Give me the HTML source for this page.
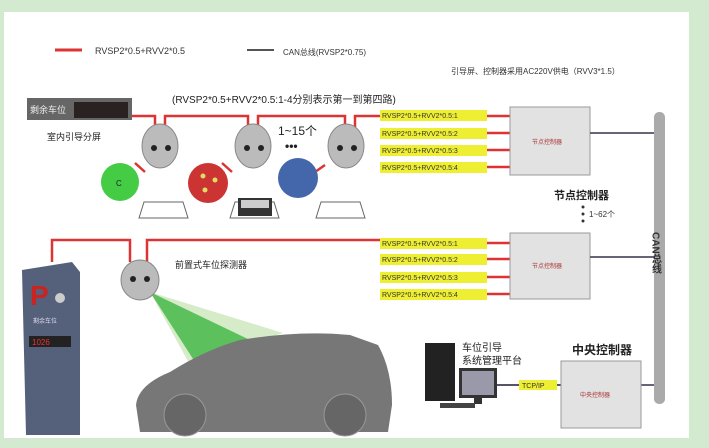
<!DOCTYPE html>
<html><head><meta charset="utf-8"><style>
body{margin:0;width:709px;height:448px;background:#d3ead0;overflow:hidden;font-family:"Liberation Sans","Noto Sans CJK SC",sans-serif}
svg{position:absolute;left:0;top:0}
</style></head><body>
<svg width="709" height="448" viewBox="0 0 709 448" font-family="Liberation Sans, Noto Sans CJK SC, sans-serif">
<rect x="4" y="12" width="685" height="426" fill="#fff"/>
<line x1="55" y1="50" x2="82" y2="50" stroke="#d33" stroke-width="3"/>
<text x="95" y="54" font-size="9" fill="#333">RVSP2*0.5+RVV2*0.5</text>
<line x1="247" y1="50" x2="274" y2="50" stroke="#555" stroke-width="2"/>
<text x="283" y="55" font-size="8" fill="#333">CAN总线(RVSP2*0.75)</text>
<text x="451" y="74" font-size="8" fill="#333">引导屏、控制器采用AC220V供电（RVV3*1.5）</text>
<text x="172" y="103" font-size="10" fill="#222">(RVSP2*0.5+RVV2*0.5:1-4分别表示第一到第四路)</text>
<rect x="27" y="98" width="105" height="22" fill="#666"/>
<rect x="74" y="102" width="54" height="16" fill="#2a2220"/>
<text x="30" y="113" font-size="9" fill="#eee">剩余车位</text>
<text x="47" y="140" font-size="9" fill="#222">室内引导分屏</text>
<g stroke="#d33" stroke-width="2.5" fill="none">
<path d="M132 116 H155 V128"/>
<path d="M165 128 V116 H248 V128"/>
<path d="M258 128 V116 H345 V128"/>
<path d="M355 128 V116 H382"/>
<path d="M487 116 H510 M487 133 H510 M487 150 H510 M487 167 H510"/>
<path d="M487 243 H510 M487 259 H510 M487 277 H510 M487 294 H510"/>
<path d="M52 262 V240 H130 V262"/>
<path d="M147 262 V240 H382"/>
<path d="M145 172 L135 163 M232 172 L222 163 M325 165 L315 172"/>
</g>
<g>
<ellipse cx="160" cy="146" rx="18" ry="22" fill="#bbb" stroke="#888"/><circle cx="154" cy="148" r="3" fill="#222"/><circle cx="168" cy="148" r="3" fill="#222"/>
<ellipse cx="253" cy="146" rx="18" ry="22" fill="#bbb" stroke="#888"/><circle cx="247" cy="148" r="3" fill="#222"/><circle cx="261" cy="148" r="3" fill="#222"/>
<ellipse cx="346" cy="146" rx="18" ry="22" fill="#bbb" stroke="#888"/><circle cx="340" cy="148" r="3" fill="#222"/><circle cx="354" cy="148" r="3" fill="#222"/>
</g>
<circle cx="120" cy="182" r="19" fill="#4c4"/><text x="116" y="186" font-size="8" fill="#222">C</text>
<circle cx="208" cy="183" r="20" fill="#c33"/><circle cx="203" cy="176" r="2.5" fill="#dd6"/><circle cx="215" cy="180" r="2.5" fill="#dd6"/><circle cx="205" cy="190" r="2.5" fill="#dd6"/>
<circle cx="298" cy="178" r="20" fill="#4466aa"/>
<text x="278" y="135" font-size="12" fill="#222">1~15个</text>
<text x="285" y="150" font-size="12" font-weight="bold" fill="#222">•••</text>
<g fill="none" stroke="#666" stroke-width="1">
<path d="M139 218 L144 202 H183 L188 218 Z"/><path d="M316 218 L321 202 H360 L365 218 Z"/><path d="M230 218 L235 202 H274 L279 218 Z"/>
</g>
<rect x="238" y="198" width="34" height="18" fill="#333"/><rect x="241" y="200" width="28" height="8" fill="#ccc"/>
<g font-size="7" fill="#333">
<rect x="380" y="110" width="107" height="11" fill="#ee3"/><text x="382" y="118">RVSP2*0.5+RVV2*0.5:1</text>
<rect x="380" y="128" width="107" height="11" fill="#ee3"/><text x="382" y="136">RVSP2*0.5+RVV2*0.5:2</text>
<rect x="380" y="145" width="107" height="11" fill="#ee3"/><text x="382" y="153">RVSP2*0.5+RVV2*0.5:3</text>
<rect x="380" y="162" width="107" height="11" fill="#ee3"/><text x="382" y="170">RVSP2*0.5+RVV2*0.5:4</text>
<rect x="380" y="238" width="107" height="11" fill="#ee3"/><text x="382" y="246">RVSP2*0.5+RVV2*0.5:1</text>
<rect x="380" y="254" width="107" height="11" fill="#ee3"/><text x="382" y="262">RVSP2*0.5+RVV2*0.5:2</text>
<rect x="380" y="272" width="107" height="11" fill="#ee3"/><text x="382" y="280">RVSP2*0.5+RVV2*0.5:3</text>
<rect x="380" y="289" width="107" height="11" fill="#ee3"/><text x="382" y="297">RVSP2*0.5+RVV2*0.5:4</text>
</g>
<rect x="510" y="107" width="80" height="68" fill="#e2e2e2" stroke="#999"/>
<text x="532" y="144" font-size="6" fill="#a33">节点控制器</text>
<rect x="510" y="233" width="80" height="66" fill="#e2e2e2" stroke="#999"/>
<text x="532" y="268" font-size="6" fill="#a33">节点控制器</text>
<text x="554" y="199" font-size="11" font-weight="bold" fill="#222">节点控制器</text>
<circle cx="583" cy="207" r="1.5" fill="#333"/><circle cx="583" cy="214" r="1.5" fill="#333"/><circle cx="583" cy="221" r="1.5" fill="#333"/>
<text x="589" y="217" font-size="8" fill="#333">1~62个</text>
<g stroke="#667" stroke-width="2"><line x1="590" y1="133" x2="656" y2="133"/><line x1="590" y1="257" x2="656" y2="257"/><line x1="641" y1="385" x2="656" y2="385"/></g>
<rect x="654" y="112" width="11" height="292" rx="5" fill="#aaa"/>
<text x="655" y="232" font-size="10" font-weight="bold" fill="#333" writing-mode="tb">CAN总线</text>
<path d="M22 270 L72 262 L80 272 V435 H26 Z" fill="#55607a"/>
<text x="30" y="305" font-size="28" fill="#c22" font-weight="bold">P</text>
<circle cx="60" cy="298" r="5" fill="#ccc"/>
<text x="33" y="323" font-size="6" fill="#dde">剩余车位</text>
<rect x="29" y="336" width="42" height="11" fill="#222"/><text x="32" y="345" font-size="8" fill="#e33">1026</text>
<polygon points="150,292 283,333 190,365" fill="#d6ecc9"/>
<polygon points="150,292 250,340 195,362" fill="#5cc05c"/>
<path d="M136 405 Q138 385 170 372 Q205 350 240 340 Q300 330 350 335 L378 345 Q392 370 392 405 L388 432 H140 Z" fill="#777"/>
<circle cx="185" cy="415" r="21" fill="#666" stroke="#999"/><circle cx="345" cy="415" r="21" fill="#666" stroke="#999"/>
<ellipse cx="140" cy="280" rx="19" ry="20" fill="#bbb" stroke="#888"/><circle cx="133" cy="279" r="3" fill="#222"/><circle cx="147" cy="279" r="3" fill="#222"/>
<text x="175" y="268" font-size="9" fill="#222">前置式车位探测器</text>
<rect x="425" y="343" width="30" height="58" fill="#222"/>
<rect x="459" y="368" width="38" height="30" fill="#333"/><rect x="462" y="371" width="32" height="24" fill="#99a"/>
<rect x="474" y="398" width="8" height="6" fill="#333"/><rect x="440" y="403" width="35" height="5" fill="#444"/>
<text x="462" y="351" font-size="10" fill="#222">车位引导</text>
<text x="462" y="364" font-size="10" fill="#222">系统管理平台</text>
<line x1="497" y1="385" x2="561" y2="385" stroke="#556" stroke-width="2"/>
<rect x="519" y="380" width="38" height="10" fill="#ee3"/><text x="522" y="388" font-size="7" fill="#333">TCP/IP</text>
<text x="572" y="354" font-size="12" font-weight="bold" fill="#222">中央控制器</text>
<rect x="561" y="361" width="80" height="67" fill="#e2e2e2" stroke="#999"/>
<text x="580" y="397" font-size="6" fill="#a33">中央控制器</text>
</svg>
</body></html>
